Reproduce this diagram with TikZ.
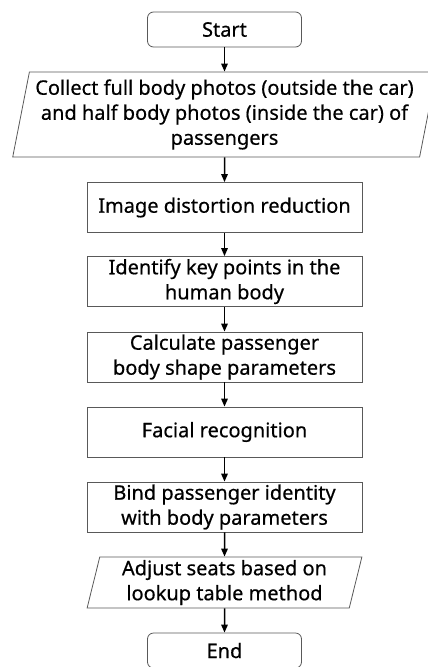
\documentclass[tikz,border=0pt]{standalone}
\usepackage{fontspec}
\setmainfont{Noto Sans}[FakeBold=0.5]
\usetikzlibrary{shapes.geometric,arrows.meta}
\begin{document}
\begin{tikzpicture}[x=1pt,y=-1pt,
		every node/.style={font=\fontsize{20}{25}\selectfont,inner sep=0pt,align=center},
		term/.style={draw=black!65,line width=.8pt,rounded corners=6pt,minimum width=154pt,minimum height=35pt},
		proc/.style={draw=black!65,line width=.8pt,minimum width=275pt,minimum height=50pt},
		io/.style={draw=black!65,line width=.8pt,trapezium,trapezium left angle=77,trapezium right angle=103,trapezium stretches=true},
		flow/.style={-{Triangle[width=6.5pt,length=8pt]},line width=1.5pt}]
	\useasboundingbox (0,0) rectangle (428,667);
	\node[term] (start) at (224.5,29.5) {Start};
	\node[io,minimum width=425pt,minimum height=85pt] (collect) at (224.5,114.5)
		{Collect full body photos (outside the car)\\ and half body photos (inside the car) of\\ passengers};
	\node[proc] (undistort) at (224.5,207.5) {Image distortion reduction};
	\node[proc] (keypts) at (224.5,281.5) {Identify key points in the\\ human body};
	\node[proc] (bodyshape) at (224.5,357) {Calculate passenger\\ body shape parameters};
	\node[proc] (face) at (224.5,432) {Facial recognition};
	\node[proc] (bind) at (224.5,507) {Bind passenger identity\\ with body parameters};
	\node[io,minimum width=275pt,minimum height=51pt] (seats) at (224.5,582.5)
		{Adjust seats based on\\ lookup table method};
	\node[term] (stop) at (224.5,650.5) {End};
	% connectors
	\foreach \a/\b in {start/collect,collect/undistort,undistort/keypts,keypts/bodyshape,
		bodyshape/face,face/bind,bind/seats,seats/stop}
		\draw[flow] (\a) -- (\b);
\end{tikzpicture}
\end{document}
